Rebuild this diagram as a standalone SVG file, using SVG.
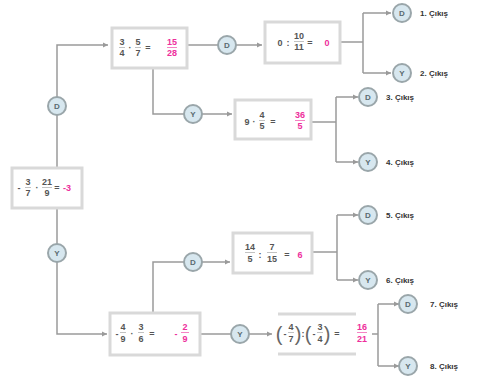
<svg xmlns="http://www.w3.org/2000/svg" width="477" height="379" viewBox="0 0 477 379">
<style>
.bx{fill:#fff;stroke:#d9d9d9;stroke-width:3}
.ln{fill:none;stroke:#9a9a9a;stroke-width:1.5}
.cc{fill:#d7e7ef;stroke:#9aa6aa;stroke-width:2}
.cl{font-family:"Liberation Sans",Arial,sans-serif;font-size:8px;font-weight:bold;fill:#5a6a70;text-anchor:middle}
.lb{font-family:"Liberation Sans",Arial,sans-serif;font-size:8px;font-weight:bold;fill:#333}
.m{font-family:"Liberation Sans",Arial,sans-serif;font-size:9px;font-weight:bold;fill:#555;text-anchor:middle}
.p{fill:#ee2f9c}
.bar{stroke:#999;stroke-width:0.6}
.pbar{stroke:#ee2f9c;stroke-width:0.6}
.par{font-family:"Liberation Sans",Arial,sans-serif;font-size:20px;fill:#666;text-anchor:middle}
</style>
<defs>
<marker id="ah" markerWidth="6" markerHeight="6" refX="5" refY="3" orient="auto" markerUnits="userSpaceOnUse">
<path d="M0,0.5 L5,3 L0,5.5 z" fill="#9a9a9a"/>
</marker>
</defs>

<g id="connectors">
<path class="ln" d="M57,168 V45 H108" marker-end="url(#ah)"/>
<path class="ln" d="M57,208 V334 H107" marker-end="url(#ah)"/>
<path class="ln" d="M187,45 H218"/>
<path class="ln" d="M236,45 H262" marker-end="url(#ah)"/>
<path class="ln" d="M340,42 H363"/>
<path class="ln" d="M363,13 V73"/>
<path class="ln" d="M363,13 H391" marker-end="url(#ah)"/>
<path class="ln" d="M363,73 H391" marker-end="url(#ah)"/>
<path class="ln" d="M153,68 V114 H184"/>
<path class="ln" d="M202,114 H232" marker-end="url(#ah)"/>
<path class="ln" d="M311,122 H336"/>
<path class="ln" d="M336,97 V162"/>
<path class="ln" d="M336,97 H358" marker-end="url(#ah)"/>
<path class="ln" d="M336,162 H358" marker-end="url(#ah)"/>
<path class="ln" d="M153,313 V262 H184"/>
<path class="ln" d="M202,262 H230" marker-end="url(#ah)"/>
<path class="ln" d="M312,252 H337"/>
<path class="ln" d="M337,215 V280"/>
<path class="ln" d="M337,215 H358" marker-end="url(#ah)"/>
<path class="ln" d="M337,280 H358" marker-end="url(#ah)"/>
<path class="ln" d="M200,334 H231"/>
<path class="ln" d="M249,334 H272" marker-end="url(#ah)"/>
<path class="ln" d="M372,334 H378"/>
<path class="ln" d="M378,304 V366"/>
<path class="ln" d="M378,304 H399" marker-end="url(#ah)"/>
<path class="ln" d="M378,366 H399" marker-end="url(#ah)"/>
</g>

<g id="root">
<rect class="bx" x="12" y="168" width="70" height="40"/>
<text class="m" x="19" y="191">-</text>
<text class="m" x="28" y="185">3</text><line class="bar" x1="25" y1="187.5" x2="31" y2="187.5"/><text class="m" x="28" y="196">7</text>
<text class="m" x="37" y="191">·</text>
<text class="m" x="47" y="185">21</text><line class="bar" x1="42" y1="187.5" x2="52" y2="187.5"/><text class="m" x="47" y="196">9</text>
<text class="m" x="57" y="191">=</text>
<text class="m p" x="67" y="191">-3</text>
</g>

<g id="c-d0"><circle class="cc" cx="57" cy="106" r="9"/><text class="cl" x="57" y="109">D</text></g>
<g id="c-y0"><circle class="cc" cx="57" cy="253" r="9"/><text class="cl" x="57" y="256">Y</text></g>

<g id="box1">
<rect class="bx" x="112" y="28" width="75" height="40"/>
<text class="m" x="122" y="45">3</text><line class="bar" x1="119" y1="47.5" x2="125" y2="47.5"/><text class="m" x="122" y="56">4</text>
<text class="m" x="130" y="51">·</text>
<text class="m" x="138" y="45">5</text><line class="bar" x1="135" y1="47.5" x2="141" y2="47.5"/><text class="m" x="138" y="56">7</text>
<text class="m" x="148" y="51">=</text>
<text class="m p" x="172" y="45">15</text><line class="pbar" x1="167" y1="47.5" x2="177" y2="47.5"/><text class="m p" x="172" y="56">28</text>
</g>

<g id="c-d1"><circle class="cc" cx="227" cy="45" r="9"/><text class="cl" x="227" y="48">D</text></g>

<g id="box2">
<rect class="bx" x="265" y="22" width="75" height="41"/>
<text class="m" x="280" y="46">0</text>
<text class="m" x="288" y="46">:</text>
<text class="m" x="299" y="39">10</text><line class="bar" x1="294" y1="41.5" x2="304" y2="41.5"/><text class="m" x="299" y="50">11</text>
<text class="m" x="310" y="46">=</text>
<text class="m p" x="327" y="46">0</text>
</g>

<g id="out1"><circle class="cc" cx="402" cy="13" r="9"/><text class="cl" x="402" y="16">D</text><text class="lb" x="420" y="16">1. Çıkış</text></g>
<g id="out2"><circle class="cc" cx="402" cy="73" r="9"/><text class="cl" x="402" y="76">Y</text><text class="lb" x="420" y="76">2. Çıkış</text></g>

<g id="c-y1"><circle class="cc" cx="193" cy="114" r="9"/><text class="cl" x="193" y="117">Y</text></g>

<g id="box3">
<rect class="bx" x="235" y="100" width="76" height="39"/>
<text class="m" x="247" y="125">9</text>
<text class="m" x="254" y="125">·</text>
<text class="m" x="262" y="118">4</text><line class="bar" x1="259" y1="120.5" x2="265" y2="120.5"/><text class="m" x="262" y="129">5</text>
<text class="m" x="273" y="125">=</text>
<text class="m p" x="300" y="118">36</text><line class="pbar" x1="295" y1="120.5" x2="305" y2="120.5"/><text class="m p" x="300" y="129">5</text>
</g>

<g id="out3"><circle class="cc" cx="368" cy="97" r="9"/><text class="cl" x="368" y="100">D</text><text class="lb" x="386" y="100">3.  Çıkış</text></g>
<g id="out4"><circle class="cc" cx="368" cy="162" r="9"/><text class="cl" x="368" y="165">Y</text><text class="lb" x="386" y="165">4.  Çıkış</text></g>

<g id="c-d2"><circle class="cc" cx="193" cy="262" r="9"/><text class="cl" x="193" y="265">D</text></g>

<g id="box4">
<rect class="bx" x="233" y="233" width="79" height="40"/>
<text class="m" x="250" y="250">14</text><line class="bar" x1="245" y1="252.5" x2="255" y2="252.5"/><text class="m" x="250" y="262">5</text>
<text class="m" x="260" y="258">:</text>
<text class="m" x="272" y="250">7</text><line class="bar" x1="267" y1="252.5" x2="277" y2="252.5"/><text class="m" x="272" y="262">15</text>
<text class="m" x="287" y="258">=</text>
<text class="m p" x="300" y="258">6</text>
</g>

<g id="out5"><circle class="cc" cx="368" cy="215" r="9"/><text class="cl" x="368" y="218">D</text><text class="lb" x="386" y="218">5.  Çıkış</text></g>
<g id="out6"><circle class="cc" cx="368" cy="280" r="9"/><text class="cl" x="368" y="283">Y</text><text class="lb" x="386" y="283">6.  Çıkış</text></g>

<g id="box5">
<rect class="bx" x="110" y="313" width="90" height="42"/>
<text class="m" x="117" y="337">-</text>
<text class="m" x="123" y="330">4</text><line class="bar" x1="120" y1="332.5" x2="126" y2="332.5"/><text class="m" x="123" y="342">9</text>
<text class="m" x="132" y="337">·</text>
<text class="m" x="141" y="330">3</text><line class="bar" x1="138" y1="332.5" x2="144" y2="332.5"/><text class="m" x="141" y="342">6</text>
<text class="m" x="152" y="337">=</text>
<text class="m p" x="176" y="337">-</text>
<text class="m p" x="185" y="330">2</text><line class="pbar" x1="181" y1="332.5" x2="189" y2="332.5"/><text class="m p" x="185" y="342">9</text>
</g>

<g id="c-y2"><circle class="cc" cx="240" cy="334" r="9"/><text class="cl" x="240" y="337">Y</text></g>

<g id="expr">
<line x1="278" y1="314" x2="356" y2="314" stroke="#d9d9d9" stroke-width="3"/>
<line x1="278" y1="354" x2="356" y2="354" stroke="#d9d9d9" stroke-width="3"/>
<text class="par" x="279" y="341">(</text>
<text class="m" x="285" y="337">-</text>
<text class="m" x="291" y="330">4</text><line class="bar" x1="288" y1="332.5" x2="294" y2="332.5"/><text class="m" x="291" y="342">7</text>
<text class="par" x="298" y="341">)</text>
<text class="m" x="303" y="337">:</text>
<text class="par" x="308" y="341">(</text>
<text class="m" x="314" y="337">-</text>
<text class="m" x="320" y="330">3</text><line class="bar" x1="317" y1="332.5" x2="323" y2="332.5"/><text class="m" x="320" y="342">4</text>
<text class="par" x="327" y="341">)</text>
<text class="m" x="337" y="337">=</text>
<text class="m p" x="362" y="330">16</text><line class="pbar" x1="357" y1="332.5" x2="367" y2="332.5"/><text class="m p" x="362" y="342">21</text>
</g>

<g id="out7"><circle class="cc" cx="408" cy="304" r="9"/><text class="cl" x="408" y="307">D</text><text class="lb" x="430" y="307">7.  Çıkış</text></g>
<g id="out8"><circle class="cc" cx="408" cy="366" r="9"/><text class="cl" x="408" y="369">Y</text><text class="lb" x="430" y="369">8.  Çıkış</text></g>
</svg>
